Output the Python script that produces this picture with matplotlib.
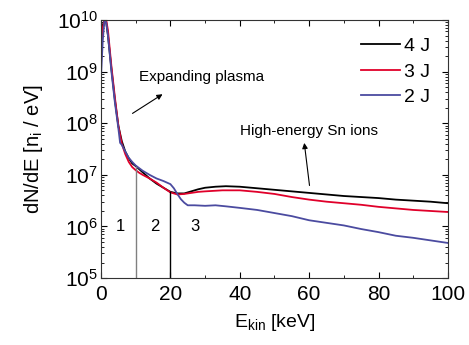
import numpy as np
import matplotlib
matplotlib.use('Agg')
import matplotlib.pyplot as plt
from matplotlib.ticker import MultipleLocator, LogLocator, NullFormatter

plt.rcParams['font.family'] = ['Liberation Sans', 'DejaVu Sans']
plt.rcParams['mathtext.default'] = 'regular'

# energies (keV) and log10(dN/dE)
e_4j = [0, 0.5, 1, 1.5, 2, 3, 4, 5, 6, 7, 8, 9, 10, 12, 14, 16, 18, 20, 22, 24, 26, 28,
        30, 33, 36, 40, 45, 50, 55, 60, 65, 70, 75, 80, 85, 90, 95, 100]
log_4j = [9.3, 9.9, 10.0, 9.95, 9.7, 9.05, 8.45, 7.95, 7.65, 7.45, 7.32, 7.22, 7.17, 7.05,
          6.93, 6.83, 6.75, 6.67, 6.64, 6.64, 6.68, 6.72, 6.75, 6.77, 6.78, 6.77, 6.74,
          6.71, 6.68, 6.65, 6.62, 6.59, 6.57, 6.55, 6.52, 6.50, 6.48, 6.45]

e_3j = [0, 0.5, 1, 1.5, 2, 3, 4, 5, 6, 7, 8, 9, 10, 11, 12, 14, 16, 18, 20, 22, 24, 26,
        28, 30, 35, 40, 45, 50, 55, 60, 65, 70, 75, 80, 85, 90, 95, 100]
log_3j = [9.2, 9.85, 10.0, 10.0, 9.8, 9.1, 8.5, 7.95, 7.6, 7.4, 7.25, 7.15, 7.09, 7.04,
          7.0, 6.93, 6.85, 6.75, 6.66, 6.62, 6.63, 6.65, 6.67, 6.68, 6.70, 6.70, 6.67,
          6.63, 6.57, 6.52, 6.48, 6.45, 6.42, 6.38, 6.35, 6.32, 6.30, 6.28]

e_2j = [0, 0.5, 1, 1.5, 2, 3, 4, 5, 5.5, 6, 7, 8, 9, 10, 12, 14, 16, 18, 20, 21, 22, 23,
        24, 25, 27, 30, 33, 36, 40, 45, 50, 55, 60, 65, 70, 75, 80, 85, 90, 95, 100]
log_2j = [8.9, 9.6, 10.0, 9.95, 9.7, 9.0, 8.4, 7.9, 7.62, 7.58, 7.45, 7.33, 7.25, 7.18,
          7.08, 7.0, 6.93, 6.88, 6.82, 6.74, 6.63, 6.53, 6.46, 6.41, 6.41, 6.40, 6.41, 6.39,
          6.36, 6.32, 6.26, 6.20, 6.12, 6.07, 6.02, 5.95, 5.89, 5.82, 5.78, 5.73, 5.68]

fig = plt.figure(figsize=(4.69, 3.45), dpi=100)
ax = fig.add_axes([0.2154, 0.194, 0.7396, 0.748])

ax.plot(e_4j, 10 ** np.array(log_4j), color='black', lw=1.3, label='4 J')
ax.plot(e_3j, 10 ** np.array(log_3j), color='#e0002a', lw=1.3, label='3 J')
ax.plot(e_2j, 10 ** np.array(log_2j), color='#4b4ba0', lw=1.3, label='2 J')

# region boundaries
ax.plot([10, 10], [1e5, 1.4e7], color='gray', lw=1)
ax.plot([20, 20], [1e5, 4.6e6], color='black', lw=1)
for x, s in [(5.5, '1'), (15.5, '2'), (27, '3')]:
    ax.text(x, 1e6, s, ha='center', va='center', fontsize=12)

ax.annotate('', xy=(18.4, 3.9e8), xytext=(8.4, 1.45e8),
            arrowprops=dict(arrowstyle='-|>', color='black', lw=0.8, mutation_scale=8))
ax.text(11, 8e8, 'Expanding plasma', fontsize=11, va='center')
ax.annotate('', xy=(58.5, 4.7e7), xytext=(60.2, 5.5e6),
            arrowprops=dict(arrowstyle='-|>', color='black', lw=0.8, mutation_scale=8))
ax.text(40, 7e7, 'High-energy Sn ions', fontsize=11, va='center')

ax.set_yscale('log')
ax.set_xlim(0, 100)
ax.set_ylim(1e5, 1e10)
ax.xaxis.set_major_locator(MultipleLocator(20))
ax.xaxis.set_minor_locator(MultipleLocator(10))
ax.yaxis.set_major_locator(LogLocator(base=10, numticks=10))
ax.yaxis.set_minor_locator(LogLocator(base=10, subs=np.arange(2, 10), numticks=20))
ax.yaxis.set_minor_formatter(NullFormatter())
ax.tick_params(which='both', direction='in', top=True, right=True, labelsize=15)
ax.tick_params(axis='x', pad=5)
ax.tick_params(axis='y', pad=2)
ax.tick_params(which='major', length=4)
ax.tick_params(which='minor', length=2)
for sp in ax.spines.values():
    sp.set_color('#333333')

ax.set_xlabel('E$_{kin}$ [keV]', fontsize=14, labelpad=6)
ax.set_ylabel('dN/dE [n$_i$ / eV]', fontsize=14.5, labelpad=9)

ax.legend(loc='upper right', frameon=False, fontsize=14, handlelength=2.0,
          handletextpad=0.2, labelspacing=0.4, borderaxespad=0.5)

fig.savefig('out.png', dpi=100)
